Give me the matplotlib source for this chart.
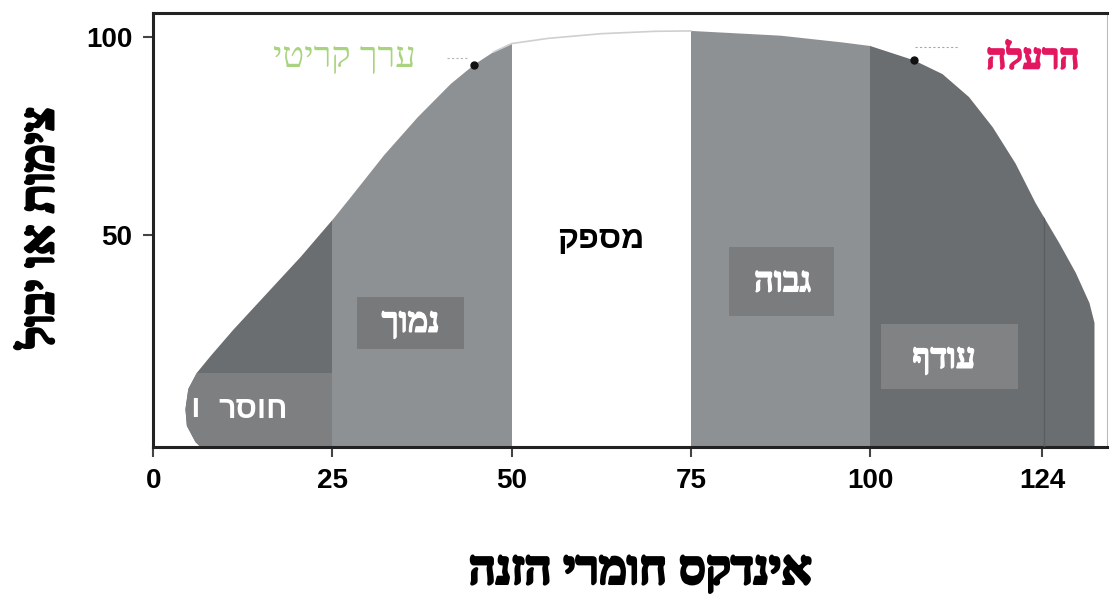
"""Nutrient response curve with sufficiency zones (Hebrew labels)."""

import matplotlib
matplotlib.use("Agg")
import matplotlib.pyplot as plt
import matplotlib.patheffects as pe
from matplotlib.patches import Polygon

plt.rcParams["font.family"] = ["Liberation Sans", "DejaVu Sans"]

# ---- data ----
# outline of the response curve (x = nutrient index, y = growth / yield)
curve_x = [6.6, 5.9, 4.7, 4.5, 4.9, 6.1, 8.0, 11.2, 15.9, 20.6, 25.2, 27.6,
           32.2, 36.9, 41.5, 44.8, 47.5, 50, 55, 62.5, 70, 75, 87.5, 96.1,
           100, 106.1, 110.1, 113.8, 117.1, 120.3, 123.1, 126.4, 128.7,
           130.6, 131.3, 131.3]
curve_y = [-3.5, -2.3, 1.8, 6.0, 11.1, 15.2, 19.4, 26.1, 35.3, 44.5, 54.2,
           59.6, 70.1, 79.7, 88.1, 93.0, 96.2, 98.3, 99.6, 100.8, 101.4,
           101.5, 100.3, 98.6, 97.7, 94.1, 90.6, 84.8, 77.2, 68.0, 58.0,
           47.9, 40.4, 32.8, 27.8, -3.5]

zone_edges = [0, 25, 50, 75, 100, 133]
zone_colors = ["#6b6e71", "#8e9194", "#ffffff", "#8e9194", "#6b6e71"]

x_ticks = [0, 25, 50, 75, 100, 124]
x_ticklabels = ["0", "25", "50", "75", "100", "124"]
y_ticks = [50, 100]

critical_point = (44.8, 93.0)
toxic_point = (106.1, 94.1)

# label boxes: (x0, x1, y0, y1, colour)
boxes = [
    (0, 25, -3.5, 15.2, "#7e7f81"),
    (28.5, 43.3, 21.1, 34.4, "#78797b"),
    (80.3, 95.0, 29.6, 47.0, "#7b7c7e"),
    (101.5, 120.7, 11.0, 27.4, "#818284"),
]

xlabel = "אינדקס חומרי הזנה"
ylabel = "צימות או יבול"


def rtl(s):
    """matplotlib has no bidi support: reverse Hebrew for visual order."""
    return s[::-1]


def heavy(color, w=1.2):
    """Thicken the Hebrew glyphs a little (the serif font has no true bold)."""
    return [pe.withStroke(linewidth=w, foreground=color)]


fig = plt.figure(figsize=(11.1, 5.95), dpi=100)
ax = fig.add_axes([0.138, 0.249, 0.859, 0.729])
ax.set_xlim(0, 133)
ax.set_ylim(-3.5, 106)

envelope = Polygon(list(zip(curve_x, curve_y)), closed=True,
                   facecolor="none", edgecolor="none")
ax.add_patch(envelope)

for (a, b), c in zip(zip(zone_edges[:-1], zone_edges[1:]), zone_colors):
    span = ax.axvspan(a, b, ymin=0, ymax=1, color=c, lw=0, zorder=1)
    span.set_clip_path(envelope)

for x0, x1, y0, y1, c in boxes:
    r = ax.fill_between([x0, x1], y0, y1, color=c, lw=0, zorder=2)
    r.set_clip_path(envelope)

# thin outline across the white zone
top_x = [x for x in curve_x if 47 <= x <= 77]
top_y = [y for x, y in zip(curve_x, curve_y) if 47 <= x <= 77]
ax.plot(top_x, top_y, color="#cfcfcf", lw=1.2, zorder=3)

# faint divider inside the excess zone
div, = ax.plot([124.3, 124.3], [-3.5, 70], color="#5b5e60", lw=1, zorder=3)
div.set_clip_path(envelope)

# critical value and toxicity markers
ax.plot(*critical_point, "o", color="#111111", ms=5, zorder=5)
ax.plot([41.0, 44.0], [94.6, 94.6], ls=(0, (2, 2)), color="#b5b5b5", lw=0.8)
ax.plot(*toxic_point, "o", color="#111111", ms=5, zorder=5)
ax.plot([106.3, 112.2], [97.4, 97.4], ls=(0, (2, 2)), color="#a8a8a8", lw=0.8)

serif = ["Liberation Serif", "DejaVu Sans"]
ax.text(26.7, 94.5, rtl("ערך קריטי"), color="#a8d47f", fontsize=26,
        family=serif, ha="center", va="center", zorder=6)
ax.text(122.7, 94.2, rtl("הרעלה"), color="#e3175f", fontsize=25,
        family=serif, weight="bold", ha="center", va="center", zorder=6,
        path_effects=heavy("#e3175f", 1.4))

ax.text(14.0, 5.8, rtl("חוסר"), color="white", fontsize=22, weight="bold",
        ha="center", va="center", zorder=6)
ax.text(5.9, 5.8, "I", color="white", fontsize=20, weight="bold",
        ha="center", va="center", zorder=6)
ax.text(35.9, 27.7, rtl("נמוך"), color="white", fontsize=25,
        family=serif, weight="bold", ha="center", va="center", zorder=6,
        path_effects=heavy("white", 1.0))
ax.text(62.4, 48.7, rtl("מספק"), color="black", fontsize=23,
        weight="bold", ha="center", va="center", zorder=6)
ax.text(87.8, 37.9, rtl("גבוה"), color="white", fontsize=25,
        family=serif, weight="bold", ha="center", va="center", zorder=6,
        path_effects=heavy("white", 1.0))
ax.text(110.3, 18.6, rtl("עודף"), color="white", fontsize=25,
        family=serif, weight="bold", ha="center", va="center", zorder=6,
        path_effects=heavy("white", 1.0))

ax.set_xticks(x_ticks)
ax.set_xticklabels(x_ticklabels)
ax.set_yticks(y_ticks)
ax.tick_params(axis="both", direction="out", length=7, width=1.5,
               color="#444444", labelsize=20, pad=8)
for lab in ax.get_xticklabels() + ax.get_yticklabels():
    lab.set_fontweight("bold")

for side in ["left", "bottom", "top"]:
    ax.spines[side].set_linewidth(2.2)
    ax.spines[side].set_color("#222222")
ax.spines["right"].set_linewidth(0.8)
ax.spines["right"].set_color("#bbbbbb")

ax.set_xlabel(rtl(xlabel), family=serif, fontsize=34, weight="bold",
              va="center", path_effects=heavy("black", 2.0))
ax.xaxis.set_label_coords(0.511, -0.29)
ax.set_ylabel(rtl(ylabel), family=serif, fontsize=34, weight="bold",
              va="center", path_effects=heavy("black", 2.0))
ax.yaxis.set_label_coords(-0.1165, 0.505)

fig.savefig("out.png", dpi=100)
